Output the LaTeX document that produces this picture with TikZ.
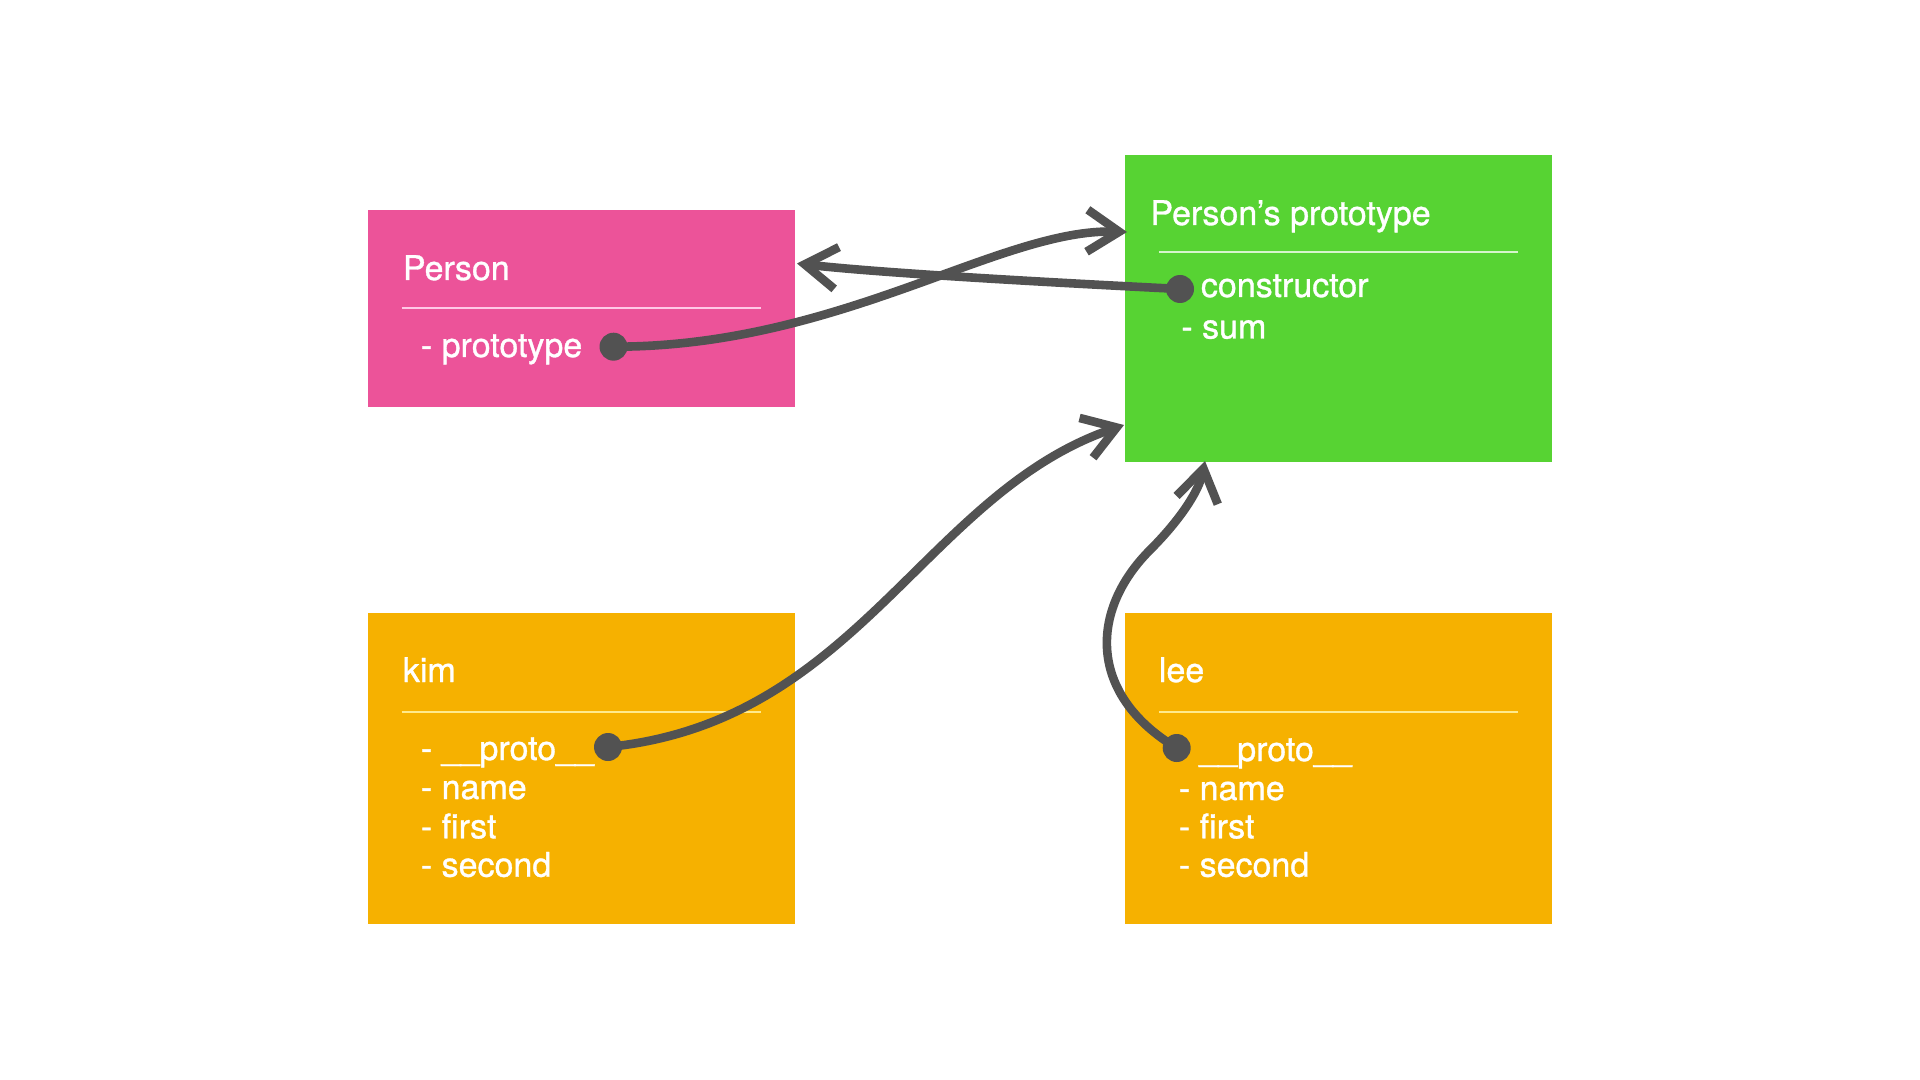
\documentclass[tikz,border=0pt]{standalone}
\usepackage{fontspec}
\setmainfont{TeX Gyre Heros}
\newfontface\hfont{TeX Gyre Heros}[FakeBold=1]
\usetikzlibrary{arrows.meta,calc}
\definecolor{cpink}{HTML}{EC5399}
\definecolor{cgreen}{HTML}{57D333}
\definecolor{corange}{HTML}{F6B100}
\definecolor{cgray}{HTML}{525252}
\definecolor{seppink}{HTML}{FFC8E6}
\definecolor{sepgreen}{HTML}{D6F5CB}
\definecolor{seporange}{HTML}{FFEA8C}
\begin{document}
\begin{tikzpicture}[x=0.5pt,y=-0.5pt,
  box/.style={rectangle, draw=none, inner sep=0pt, minimum width=213.5pt},
  lbl/.style={anchor=base west, inner sep=0pt, text=white, font=\hfont\fontsize{17}{20}\selectfont},
  sepline/.style={line width=1pt},
  dotn/.style={circle, fill=cgray, draw=none, inner sep=0pt, minimum size=14pt},
  conn/.style={draw=cgray, line width=4.3pt, -{Straight Barb[length=16pt,width=21pt]}}
]
\useasboundingbox (0,0) rectangle (1920,1080);
\fill[white] (0,0) rectangle (1920,1080);

% boxes
\node[box, fill=cpink,   minimum height=98.5pt]  (person) at (581.25,308.5) {};
\node[box, fill=cgreen,  minimum height=153.5pt] (proto)  at (1338.5,308.5) {};
\node[box, fill=corange, minimum height=155.5pt] (kim)    at (581.25,768.5) {};
\node[box, fill=corange, minimum height=155.5pt] (lee)    at (1338.5,768.5) {};

% separators
\draw[sepline, seppink]   (401.7,308.3) -- (761,308.3);
\draw[sepline, sepgreen]  (1159.3,252.3) -- (1517.7,252.3);
\draw[sepline, seporange] (401.7,711.7) -- (761,711.7);
\draw[sepline, seporange] (1159.3,711.7) -- (1517.7,711.7);

% texts
\node[lbl] (personT) at (402.5,280) {Person};
\node[lbl] (personA) at (420.5,357) {- prototype};

\node[lbl] (protoT) at (1150,225) {Person’s prototype};
\node[lbl] (protoA) at (1200.5,297) {constructor};
\node[lbl] (protoB) at (1181,338.5) {- sum};

\node[lbl] (kimT) at (402.5,682) {kim};
\node[lbl] (kimA) at (420.5,760) {- \_\_proto\_\_};
\node[lbl] (kimB) at (420.5,799) {- name};
\node[lbl] (kimC) at (420.5,838.3) {- first};
\node[lbl] (kimD) at (420.5,876.7) {- second};

\node[lbl] (leeT) at (1158.5,682) {lee};
\node[lbl] (leeA) at (1199,761) {\_\_proto\_\_};
\node[lbl] (leeB) at (1178.5,800) {- name};
\node[lbl] (leeC) at (1178.5,838.3) {- first};
\node[lbl] (leeD) at (1178.5,876.7) {- second};

% dots
\node[dotn] (pdot) at (613.5,346.7) {};
\node[dotn] (cdot) at (1180,289) {};
\node[dotn] (kdot) at (608,747) {};
\node[dotn] (ldot) at (1176.7,748) {};

% arrow tips
\coordinate (tipA) at (1127,232);
\coordinate (tipB) at (797,263.5);
\coordinate (tipC) at (1124,425);
\coordinate (tipD) at (1205,461);

% connectors
\draw[conn] (pdot.center) .. controls (840,347) and (1000,228) .. (tipA);
\draw[conn] (cdot.center) .. controls (1050,282.5) and (880,273) .. (tipB);
\draw[conn] (kdot.center) .. controls (858,722) and (924,493) .. (tipC);
\draw[conn] (ldot.center) .. controls (1087,694) and (1090,610) .. (1150,550)
            .. controls (1180,520) and (1199,491) .. (tipD);
\end{tikzpicture}
\end{document}
